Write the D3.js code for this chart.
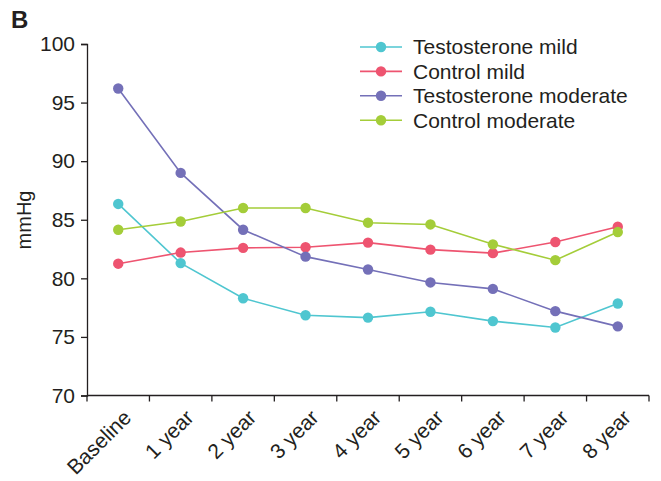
<!DOCTYPE html>
<html><head><meta charset="utf-8">
<script src="https://cdn.jsdelivr.net/npm/d3@7/dist/d3.min.js"></script>
<style>body{margin:0;background:#fff}text{font-family:"Liberation Sans",Arial,sans-serif;fill:#231f20}</style>
</head><body><svg id="c" width="661" height="481"></svg>
<script>
const categories = ["Baseline","1 year","2 year","3 year","4 year","5 year","6 year","7 year","8 year"];
const yTicks = [70,75,80,85,90,95,100];
const seriesNames = ["Testosterone mild","Control mild","Testosterone moderate","Control moderate"];
const seriesColors = ["#4fc6d0","#ee5470","#7470b8","#a4cd39"];
const testosteroneMild = [86.35,81.3,78.3,76.85,76.65,77.15,76.35,75.8,77.85];
const controlMild = [81.25,82.2,82.6,82.65,83.05,82.45,82.15,83.1,84.4];
const testosteroneModerate = [96.2,89.0,84.15,81.85,80.75,79.65,79.1,77.2,75.9];
const controlModerate = [84.15,84.85,86.0,86.0,84.75,84.6,82.9,81.55,83.95];
const allSeries = [testosteroneMild, controlMild, testosteroneModerate, controlModerate];

const FS = "21px";
const svg = d3.select("#c");
const x = d3.scaleBand().domain(categories).range([87,649]);
const y = d3.scaleLinear().domain([70,100]).range([395.5,44]);

// Y axis
const ya = svg.append("g").attr("transform","translate(87,0)")
  .call(d3.axisLeft(y).tickValues(yTicks).tickSize(6).tickPadding(6));
ya.select(".domain").attr("stroke","#231f20").attr("stroke-width",1.3);
ya.selectAll(".tick line").attr("stroke","#231f20").attr("stroke-width",1.3);
ya.selectAll("text").style("font-size",FS).attr("fill","#231f20").style("font-family","Liberation Sans, Arial, sans-serif");

// X axis
const xa = svg.append("g").attr("transform","translate(0,395.5)");
xa.append("line").attr("x1",87).attr("x2",649).attr("stroke","#231f20").attr("stroke-width",1.3);
const bounds = categories.map(c=>x(c)).concat([x.range()[1]]);
xa.selectAll("line.tk").data(bounds).join("line").attr("class","tk")
  .attr("x1",d=>d).attr("x2",d=>d).attr("y1",0).attr("y2",6)
  .attr("stroke","#231f20").attr("stroke-width",1.3);
xa.selectAll("text").data(categories).join("text")
  .attr("transform",d=>`translate(${x(d)+x.bandwidth()/2+4},13) rotate(-45)`)
  .attr("text-anchor","end").attr("dy","0.7em")
  .style("font-size",FS).text(d=>d);

// Y label
svg.append("text").attr("transform","translate(31,220) rotate(-90)")
  .attr("text-anchor","middle").style("font-size","20px").text("mmHg");
// Panel label
svg.append("text").attr("x",11).attr("y",28).style("font-size","24px").style("font-weight","bold").text("B");

// Lines and points
const line = d3.line().x((d,i)=>x(categories[i])+x.bandwidth()/2).y(d=>y(d));
allSeries.forEach((s,k)=>{
  svg.append("path").datum(s).attr("d",line).attr("fill","none")
    .attr("stroke",seriesColors[k]).attr("stroke-width",1.6);
});
allSeries.forEach((s,k)=>{
  svg.append("g").selectAll("circle").data(s).join("circle")
    .attr("cx",(d,i)=>x(categories[i])+x.bandwidth()/2).attr("cy",d=>y(d))
    .attr("r",5.2).attr("fill",seriesColors[k]);
});

// Legend
const lg = svg.append("g");
seriesNames.forEach((n,k)=>{
  const yy = 47 + k*24.4;
  lg.append("line").attr("x1",360).attr("x2",402).attr("y1",yy).attr("y2",yy)
    .attr("stroke",seriesColors[k]).attr("stroke-width",1.6);
  lg.append("circle").attr("cx",381).attr("cy",yy).attr("r",5.2).attr("fill",seriesColors[k]);
  lg.append("text").attr("x",413).attr("y",yy).attr("dy","0.35em").style("font-size",FS).text(n);
});
</script></body></html>
